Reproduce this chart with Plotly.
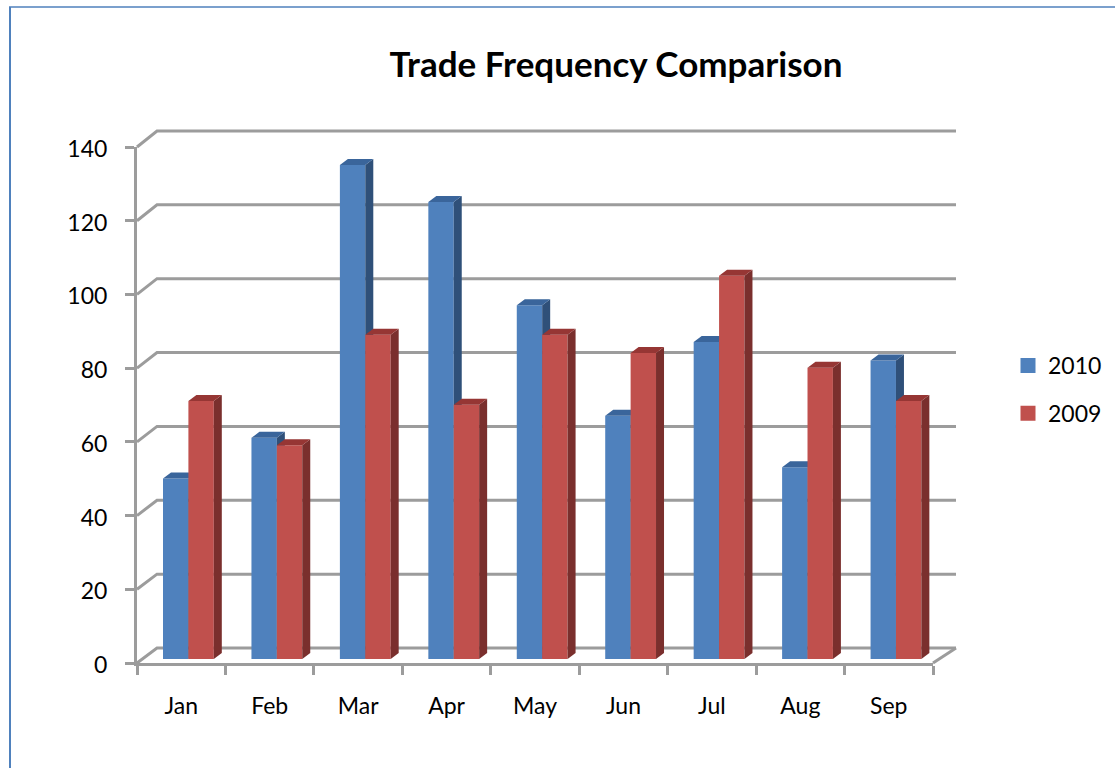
import plotly.graph_objects as go

# ---- data ----
months = ["Jan", "Feb", "Mar", "Apr", "May", "Jun", "Jul", "Aug", "Sep"]
values_2010 = [49, 60, 134, 124, 96, 66, 86, 52, 81]
values_2009 = [70, 58, 88, 69, 88, 83, 104, 79, 70]
y_ticks = [0, 20, 40, 60, 80, 100, 120, 140]

# ---- style / geometry ----
W, H = 1115, 768
L, R, T, B = 137, 933, 147, 663          # front plane of the chart
OL, OR, OT, OB = 134, 959, 127, 666      # outer area that also holds the back wall
px_x = (R - L) / len(months)
px_y = (B - T) / 140
BAR_W = 25.4 / px_x
OFF_A, OFF_B = -0.206, -0.206 + BAR_W
BASE = 4 / px_y
DX, DY = 8 / px_x, 6 / px_y
WALL_DX, WALL_DY, WALL_SCALE = 20 / px_x, 15 / px_y, 1.002
WALL_END = 8.5 + 23 / px_x
GRID = "#9C9C9C"
FONT = "Lato"
BLUE, BLUE_SIDE, BLUE_TOP = "#4F81BD", "#2F5079", "#3A659B"
RED, RED_SIDE, RED_TOP = "#C0504D", "#7A2F2D", "#963634"


def faces(values, offset):
    sx, sy, tx, ty = [], [], [], []
    for i, v in enumerate(values):
        x0, x1 = i + offset, i + offset + BAR_W
        top = BASE + v
        sx += [x1, x1 + DX, x1 + DX, x1, x1, None]
        sy += [BASE, BASE + DY, top + DY, top, BASE, None]
        tx += [x0, x0 + DX, x1 + DX, x1, x0, None]
        ty += [top, top + DY, top + DY, top, top, None]
    return sx, sy, tx, ty


def poly(x, y, color, xa, ya):
    return go.Scatter(x=x, y=y, mode="lines", fill="toself", fillcolor=color,
                      line=dict(width=0, color=color), hoverinfo="skip",
                      showlegend=False, xaxis=xa, yaxis=ya)


fig = go.Figure()

# back wall and floor lines (lowest subplot)
gx, gy = [], []
for v in y_ticks:
    wall = v * WALL_SCALE + WALL_DY
    gx += [-0.5, -0.5 + WALL_DX, WALL_END, None]
    gy += [v, wall, wall, None]
gx += [WALL_END, 8.5]
gy += [WALL_DY, 0]
fig.add_trace(go.Scatter(x=gx, y=gy, mode="lines", line=dict(color=GRID, width=3),
                         hoverinfo="skip", showlegend=False))

# series 2010
sx, sy, tx, ty = faces(values_2010, OFF_A)
fig.add_trace(go.Bar(x=list(range(9)), y=values_2010, base=BASE, width=BAR_W, offset=OFF_A,
                     marker=dict(color=BLUE, line=dict(width=0)), name="2010",
                     showlegend=False, xaxis="x2", yaxis="y2"))
fig.add_trace(poly(sx, sy, BLUE_SIDE, "x2", "y2"))
fig.add_trace(poly(tx, ty, BLUE_TOP, "x2", "y2"))

# series 2009
sx, sy, tx, ty = faces(values_2009, OFF_B)
fig.add_trace(go.Bar(x=list(range(9)), y=values_2009, base=BASE, width=BAR_W, offset=OFF_B,
                     marker=dict(color=RED, line=dict(width=0)), name="2009",
                     showlegend=False, xaxis="x3", yaxis="y3"))
fig.add_trace(poly(sx, sy, RED_SIDE, "x3", "y3"))
fig.add_trace(poly(tx, ty, RED_TOP, "x3", "y3"))

# legend keys
for name, color in [("2010", BLUE), ("2009", RED)]:
    fig.add_trace(go.Bar(x=[None], y=[None], name=name, legendgroup=name,
                         xaxis="x3", yaxis="y3",
                         marker=dict(color=color, line=dict(color=color, width=3))))

hidden = dict(visible=False, fixedrange=True)
xr, yr = [-0.5, 8.5], [0, 140]
paper_x = lambda p: (p - OL) / (OR - OL)
paper_y = lambda p: (OB - p) / (OB - OT)
x_dom = [paper_x(L), paper_x(R)]
y_dom = [paper_y(B), paper_y(T)]

fig.update_layout(
    width=W, height=H, margin=dict(l=OL, r=W - OR, t=OT, b=H - OB, pad=0),
    paper_bgcolor="white", plot_bgcolor="rgba(0,0,0,0)", barmode="overlay",
    font=dict(family=FONT, size=23, color="black"),
    title=dict(text="<b>Trade Frequency Comparison</b>", font=dict(family=FONT, size=35, color="black"),
               x=paper_x(616), xref="paper", xanchor="center",
               y=1 - 65 / H, yref="container", yanchor="middle"),
    # wall axes: same scale as the front plane, taller and wider domain
    xaxis=dict(domain=[0, 1], range=[-0.5 - (L - OL) / px_x, -0.5 + (OR - L) / px_x], **hidden),
    yaxis=dict(domain=[0, 1], range=[-(OB - B) / px_y, (B - OT) / px_y], **hidden),
    xaxis2=dict(domain=x_dom, anchor="y2", range=xr, tickmode="array", tickvals=list(range(9)),
                ticktext=months, ticks="", ticklabelstandoff=20, showgrid=False, zeroline=False,
                showline=True, linecolor=GRID, linewidth=3, fixedrange=True,
                minor=dict(tickmode="array", tickvals=[i - 0.5 for i in range(10)],
                           ticks="outside", ticklen=9, tickwidth=2.5, tickcolor=GRID, showgrid=False)),
    yaxis2=dict(domain=y_dom, anchor="x2", range=yr, tickmode="array", tickvals=y_ticks,
                ticks="outside", ticklen=9, tickwidth=2.5, tickcolor=GRID, ticklabelstandoff=13,
                ticklabelshift=2, showgrid=False, zeroline=False, showline=True, linecolor=GRID,
                linewidth=3, fixedrange=True),
    xaxis3=dict(range=xr, overlaying="x2", anchor="y3", **hidden),
    yaxis3=dict(range=yr, overlaying="y2", anchor="x3", **hidden),
    legend=dict(xref="container", yref="container", x=1008 / W, xanchor="left",
                y=1 - 344 / H, yanchor="top",
                traceorder="grouped", tracegroupgap=15, font=dict(family=FONT, size=23, color="black"),
                bgcolor="rgba(0,0,0,0)", borderwidth=0),
    shapes=[
        dict(type="line", xref="paper", yref="paper", x0=paper_x(10), x1=paper_x(10),
             y0=paper_y(7), y1=paper_y(768), line=dict(color=BLUE, width=2)),
        dict(type="line", xref="paper", yref="paper", x0=paper_x(9), x1=paper_x(1115),
             y0=paper_y(7), y1=paper_y(7), line=dict(color=BLUE, width=1.5)),
    ],
)

fig.write_html("out.html", config={"displayModeBar": False},
               post_script="document.body.style.margin='0';")
